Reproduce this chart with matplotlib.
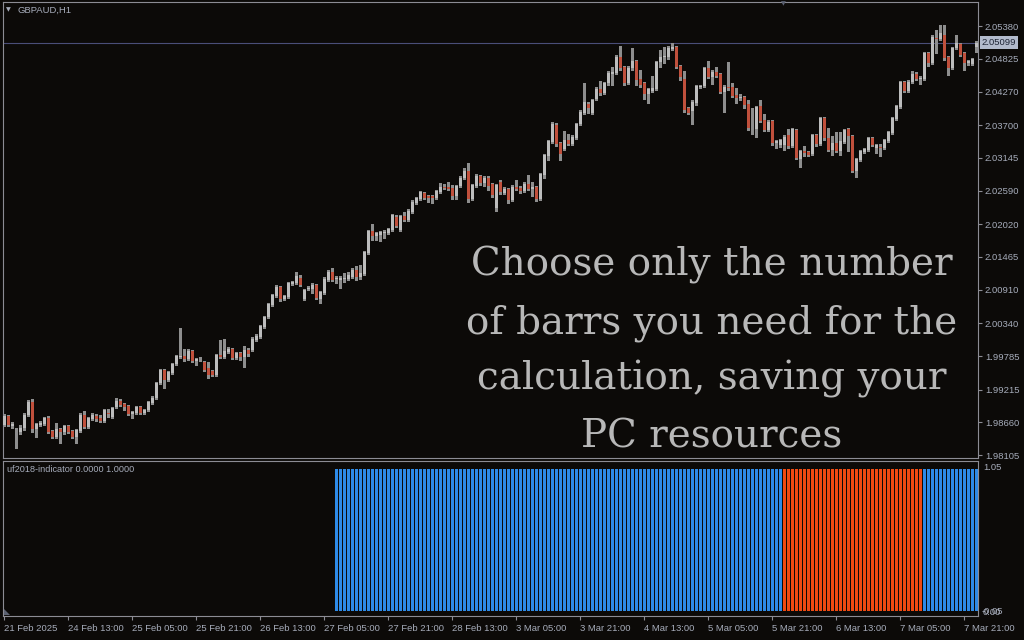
import numpy as np
import matplotlib
matplotlib.use("Agg")
import matplotlib.pyplot as plt
from matplotlib.patches import Polygon

# ---------------- data (GBPAUD H1) ----------------
opens = [
 1.9862, 1.9877, 1.9860, 1.9841, 1.9850, 1.9857, 1.9879, 1.9901, 1.9855, 1.9862,
 1.9863, 1.9874, 1.9852, 1.9841, 1.9855, 1.9850, 1.9860, 1.9852, 1.9841, 1.9852,
 1.9879, 1.9858, 1.9872, 1.9877, 1.9874, 1.9868, 1.9882, 1.9875, 1.9892, 1.9902,
 1.9897, 1.9894, 1.9880, 1.9882, 1.9892, 1.9882, 1.9887, 1.9899, 1.9907, 1.9933,
 1.9955, 1.9938, 1.9950, 1.9965, 1.9977, 1.9978, 1.9973, 1.9987, 1.9970, 1.9973,
 1.9968, 1.9958, 1.9953, 1.9946, 1.9980, 1.9977, 1.9985, 1.9990, 1.9975, 1.9984,
 1.9977, 1.9989, 1.9989, 2.0006, 2.0011, 2.0028, 2.0045, 2.0065, 2.0080, 2.0096,
 2.0075, 2.0079, 2.0101, 2.0102, 2.0111, 2.0075, 2.0092, 2.0092, 2.0099, 2.0075,
 2.0085, 2.0107, 2.0121, 2.0109, 2.0107, 2.0109, 2.0109, 2.0112, 2.0124, 2.0112,
 2.0117, 2.0153, 2.0190, 2.0182, 2.0184, 2.0187, 2.0187, 2.0192, 2.0214, 2.0192,
 2.0216, 2.0209, 2.0223, 2.0238, 2.0245, 2.0255, 2.0250, 2.0250, 2.0246, 2.0256,
 2.0265, 2.0265, 2.0263, 2.0250, 2.0267, 2.0280, 2.0292, 2.0245, 2.0267, 2.0284,
 2.0272, 2.0280, 2.0270, 2.0229, 2.0273, 2.0255, 2.0262, 2.0243, 2.0265, 2.0263,
 2.0258, 2.0270, 2.0262, 2.0265, 2.0245, 2.0285, 2.0318, 2.0341, 2.0370, 2.0340,
 2.0329, 2.0345, 2.0338, 2.0348, 2.0372, 2.0390, 2.0406, 2.0390, 2.0414, 2.0431,
 2.0424, 2.0441, 2.0457, 2.0458, 2.0486, 2.0469, 2.0441, 2.0467, 2.0479, 2.0448,
 2.0441, 2.0423, 2.0428, 2.0431, 2.0477, 2.0486, 2.0486, 2.0499, 2.0503, 2.0470,
 2.0448, 2.0399, 2.0394, 2.0407, 2.0435, 2.0436, 2.0467, 2.0452, 2.0460, 2.0457,
 2.0426, 2.0435, 2.0435, 2.0421, 2.0416, 2.0418, 2.0406, 2.0367, 2.0363, 2.0402,
 2.0379, 2.0362, 2.0377, 2.0340, 2.0336, 2.0336, 2.0353, 2.0335, 2.0362, 2.0312,
 2.0326, 2.0324, 2.0321, 2.0353, 2.0338, 2.0382, 2.0348, 2.0328, 2.0340, 2.0326,
 2.0341, 2.0363, 2.0351, 2.0292, 2.0311, 2.0324, 2.0328, 2.0348, 2.0331, 2.0333,
 2.0331, 2.0343, 2.0357, 2.0380, 2.0401, 2.0443, 2.0428, 2.0443, 2.0457, 2.0448,
 2.0448, 2.0492, 2.0475, 2.0518, 2.0516, 2.0523, 2.0486, 2.0467, 2.0501, 2.0508,
 2.0492, 2.0475, 2.0474, 2.0503]

closes = [
 1.9877, 1.9862, 1.9863, 1.9842, 1.9857, 1.9879, 1.9901, 1.9855, 1.9863, 1.9865,
 1.9874, 1.9850, 1.9841, 1.9855, 1.9850, 1.9860, 1.9850, 1.9841, 1.9853, 1.9879,
 1.9858, 1.9874, 1.9879, 1.9872, 1.9868, 1.9887, 1.9881, 1.9890, 1.9902, 1.9896,
 1.9892, 1.9880, 1.9884, 1.9892, 1.9882, 1.9887, 1.9901, 1.9907, 1.9933, 1.9955,
 1.9938, 1.9951, 1.9965, 1.9978, 1.9978, 1.9973, 1.9987, 1.9970, 1.9973, 1.9974,
 1.9955, 1.9946, 1.9946, 1.9980, 1.9977, 1.9987, 1.9990, 1.9975, 1.9984, 1.9977,
 1.9989, 1.9982, 2.0007, 2.0012, 2.0029, 2.0045, 2.0067, 2.0082, 2.0096, 2.0075,
 2.0080, 2.0102, 2.0104, 2.0114, 2.0099, 2.0090, 2.0094, 2.0099, 2.0077, 2.0087,
 2.0109, 2.0121, 2.0107, 2.0111, 2.0111, 2.0111, 2.0116, 2.0124, 2.0112, 2.0119,
 2.0155, 2.0190, 2.0182, 2.0187, 2.0189, 2.0189, 2.0194, 2.0218, 2.0199, 2.0216,
 2.0209, 2.0224, 2.0240, 2.0246, 2.0256, 2.0246, 2.0246, 2.0246, 2.0258, 2.0265,
 2.0263, 2.0262, 2.0250, 2.0267, 2.0280, 2.0292, 2.0245, 2.0268, 2.0284, 2.0272,
 2.0280, 2.0267, 2.0251, 2.0268, 2.0256, 2.0262, 2.0243, 2.0265, 2.0262, 2.0258,
 2.0270, 2.0262, 2.0265, 2.0245, 2.0287, 2.0319, 2.0343, 2.0372, 2.0338, 2.0321,
 2.0345, 2.0338, 2.0350, 2.0372, 2.0392, 2.0409, 2.0399, 2.0412, 2.0431, 2.0424,
 2.0441, 2.0458, 2.0460, 2.0486, 2.0467, 2.0441, 2.0467, 2.0479, 2.0446, 2.0438,
 2.0423, 2.0431, 2.0433, 2.0477, 2.0486, 2.0487, 2.0501, 2.0503, 2.0469, 2.0452,
 2.0396, 2.0390, 2.0409, 2.0436, 2.0437, 2.0467, 2.0452, 2.0460, 2.0453, 2.0426,
 2.0435, 2.0433, 2.0419, 2.0416, 2.0418, 2.0404, 2.0365, 2.0366, 2.0401, 2.0377,
 2.0362, 2.0375, 2.0340, 2.0343, 2.0345, 2.0350, 2.0335, 2.0363, 2.0314, 2.0326,
 2.0323, 2.0319, 2.0353, 2.0338, 2.0382, 2.0348, 2.0328, 2.0340, 2.0326, 2.0343,
 2.0362, 2.0351, 2.0292, 2.0312, 2.0326, 2.0329, 2.0348, 2.0336, 2.0336, 2.0331,
 2.0345, 2.0358, 2.0382, 2.0402, 2.0443, 2.0428, 2.0443, 2.0457, 2.0448, 2.0450,
 2.0492, 2.0475, 2.0519, 2.0516, 2.0526, 2.0484, 2.0467, 2.0501, 2.0509, 2.0489,
 2.0475, 2.0479, 2.0482, 2.05099]

highs = [
 1.9880, 1.9879, 1.9867, 1.9857, 1.9862, 1.9882, 1.9904, 1.9906, 1.9865, 1.9868,
 1.9875, 1.9877, 1.9853, 1.9865, 1.9857, 1.9862, 1.9862, 1.9853, 1.9855, 1.9882,
 1.9885, 1.9875, 1.9882, 1.9880, 1.9879, 1.9889, 1.9889, 1.9892, 1.9907, 1.9906,
 1.9899, 1.9896, 1.9885, 1.9894, 1.9894, 1.9889, 1.9902, 1.9911, 1.9934, 1.9957,
 1.9957, 1.9953, 1.9967, 1.9980, 2.0026, 1.9990, 1.9990, 1.9989, 1.9975, 1.9977,
 1.9970, 1.9968, 1.9955, 1.9982, 2.0006, 2.0007, 1.9994, 1.9992, 1.9985, 1.9985,
 1.9996, 1.9992, 2.0011, 2.0016, 2.0031, 2.0046, 2.0068, 2.0084, 2.0099, 2.0097,
 2.0082, 2.0104, 2.0106, 2.0121, 2.0116, 2.0092, 2.0097, 2.0102, 2.0101, 2.0089,
 2.0112, 2.0124, 2.0128, 2.0114, 2.0114, 2.0119, 2.0121, 2.0128, 2.0131, 2.0133,
 2.0157, 2.0192, 2.0202, 2.0189, 2.0190, 2.0192, 2.0196, 2.0219, 2.0218, 2.0218,
 2.0223, 2.0228, 2.0243, 2.0248, 2.0258, 2.0256, 2.0251, 2.0251, 2.0260, 2.0272,
 2.0270, 2.0273, 2.0268, 2.0268, 2.0284, 2.0297, 2.0306, 2.0270, 2.0287, 2.0285,
 2.0284, 2.0284, 2.0272, 2.0270, 2.0277, 2.0265, 2.0263, 2.0268, 2.0277, 2.0267,
 2.0273, 2.0285, 2.0273, 2.0267, 2.0289, 2.0321, 2.0345, 2.0375, 2.0373, 2.0341,
 2.0360, 2.0355, 2.0353, 2.0373, 2.0396, 2.0441, 2.0409, 2.0414, 2.0435, 2.0445,
 2.0443, 2.0462, 2.0469, 2.0489, 2.0504, 2.0470, 2.0470, 2.0501, 2.0480, 2.0463,
 2.0443, 2.0433, 2.0453, 2.0479, 2.0497, 2.0503, 2.0504, 2.0509, 2.0504, 2.0472,
 2.0462, 2.0401, 2.0412, 2.0438, 2.0438, 2.0469, 2.0479, 2.0463, 2.0469, 2.0458,
 2.0438, 2.0477, 2.0441, 2.0433, 2.0423, 2.0419, 2.0412, 2.0399, 2.0402, 2.0412,
 2.0389, 2.0379, 2.0379, 2.0345, 2.0346, 2.0353, 2.0363, 2.0365, 2.0363, 2.0328,
 2.0335, 2.0326, 2.0355, 2.0355, 2.0384, 2.0384, 2.0365, 2.0351, 2.0358, 2.0358,
 2.0363, 2.0365, 2.0353, 2.0314, 2.0328, 2.0331, 2.0350, 2.0350, 2.0338, 2.0338,
 2.0346, 2.0360, 2.0384, 2.0404, 2.0445, 2.0445, 2.0446, 2.0462, 2.0460, 2.0453,
 2.0494, 2.0494, 2.0523, 2.0531, 2.0540, 2.0540, 2.0487, 2.0503, 2.0523, 2.0509,
 2.0494, 2.0480, 2.0484, 2.0513]

lows = [
 1.9860, 1.9860, 1.9857, 1.9823, 1.9846, 1.9853, 1.9877, 1.9850, 1.9841, 1.9860,
 1.9862, 1.9848, 1.9840, 1.9840, 1.9831, 1.9846, 1.9848, 1.9840, 1.9831, 1.9850,
 1.9857, 1.9857, 1.9870, 1.9868, 1.9867, 1.9867, 1.9875, 1.9874, 1.9890, 1.9894,
 1.9887, 1.9879, 1.9874, 1.9880, 1.9880, 1.9880, 1.9885, 1.9897, 1.9906, 1.9931,
 1.9924, 1.9936, 1.9948, 1.9963, 1.9975, 1.9970, 1.9972, 1.9968, 1.9963, 1.9970,
 1.9953, 1.9941, 1.9945, 1.9945, 1.9975, 1.9975, 1.9984, 1.9973, 1.9973, 1.9972,
 1.9960, 1.9978, 1.9987, 2.0004, 2.0009, 2.0026, 2.0043, 2.0063, 2.0079, 2.0072,
 2.0074, 2.0077, 2.0099, 2.0101, 2.0097, 2.0074, 2.0090, 2.0085, 2.0075, 2.0068,
 2.0084, 2.0106, 2.0106, 2.0102, 2.0094, 2.0104, 2.0107, 2.0111, 2.0107, 2.0109,
 2.0116, 2.0151, 2.0175, 2.0175, 2.0173, 2.0179, 2.0185, 2.0190, 2.0197, 2.0190,
 2.0207, 2.0207, 2.0221, 2.0236, 2.0243, 2.0245, 2.0240, 2.0238, 2.0245, 2.0255,
 2.0262, 2.0260, 2.0245, 2.0245, 2.0265, 2.0278, 2.0240, 2.0243, 2.0265, 2.0268,
 2.0267, 2.0260, 2.0248, 2.0224, 2.0253, 2.0253, 2.0238, 2.0241, 2.0260, 2.0255,
 2.0256, 2.0260, 2.0250, 2.0241, 2.0243, 2.0280, 2.0311, 2.0340, 2.0335, 2.0311,
 2.0328, 2.0336, 2.0336, 2.0346, 2.0370, 2.0389, 2.0390, 2.0389, 2.0412, 2.0421,
 2.0423, 2.0438, 2.0438, 2.0457, 2.0463, 2.0438, 2.0440, 2.0463, 2.0438, 2.0435,
 2.0414, 2.0407, 2.0426, 2.0429, 2.0469, 2.0475, 2.0482, 2.0497, 2.0467, 2.0446,
 2.0392, 2.0389, 2.0372, 2.0404, 2.0433, 2.0435, 2.0450, 2.0440, 2.0452, 2.0424,
 2.0392, 2.0429, 2.0418, 2.0407, 2.0412, 2.0399, 2.0362, 2.0355, 2.0350, 2.0375,
 2.0360, 2.0360, 2.0336, 2.0331, 2.0333, 2.0328, 2.0331, 2.0333, 2.0312, 2.0299,
 2.0318, 2.0318, 2.0319, 2.0335, 2.0336, 2.0345, 2.0326, 2.0319, 2.0324, 2.0319,
 2.0340, 2.0326, 2.0290, 2.0282, 2.0309, 2.0323, 2.0326, 2.0335, 2.0323, 2.0318,
 2.0329, 2.0341, 2.0355, 2.0379, 2.0399, 2.0426, 2.0426, 2.0441, 2.0446, 2.0440,
 2.0446, 2.0470, 2.0474, 2.0492, 2.0514, 2.0480, 2.0455, 2.0465, 2.0499, 2.0487,
 2.0463, 2.0472, 2.0472, 2.0494]

current_price = 2.05099

price_ticks = [2.05380, 2.04825, 2.04270, 2.03700, 2.03145, 2.02590, 2.02020,
               2.01465, 2.00910, 2.00340, 1.99785, 1.99215, 1.98660, 1.98105]

time_tick_bars = [0, 16, 32, 48, 64, 80, 96, 112, 128, 144, 160, 176, 192, 208, 224, 240]
time_labels = ["21 Feb 2025", "24 Feb 13:00", "25 Feb 05:00", "25 Feb 21:00",
               "26 Feb 13:00", "27 Feb 05:00", "27 Feb 21:00", "28 Feb 13:00",
               "3 Mar 05:00", "3 Mar 21:00", "4 Mar 13:00", "5 Mar 05:00",
               "5 Mar 21:00", "6 Mar 13:00", "7 Mar 05:00", "7 Mar 21:00"]

# indicator signal segments: (first bar, last bar, state)
signal_segments = [(83, 194, "up"), (195, 229, "down"), (230, 243, "up")]
signal_value = 1.0

overlay_lines = ["Choose only the number", "of barrs you need for the",
                 "calculation, saving your", "PC resources"]

# ---------------- style ----------------
BG = "#0c0a08"
FRAME = "#8c8c94"
LABEL = "#a6acba"
BULL = "#bdbdbd"
BEAR = "#c0503c"
WICK = "#8e8e8e"
BLUE = "#2e8ae6"
ORANGE = "#ef4a12"
PLINE = "#4a4e78"
UI = ["Liberation Sans", "DejaVu Sans"]

W, H = 1024, 640
fig = plt.figure(figsize=(W / 100, H / 100), dpi=100, facecolor=BG)


def rect(x0, y0, x1, y1):
    return [x0 / W, 1 - y1 / H, (x1 - x0) / W, (y1 - y0) / H]


ax = fig.add_axes(rect(3, 2, 978, 458))
axi = fig.add_axes(rect(3, 461, 978, 616))
for a in (ax, axi):
    a.set_facecolor(BG)
    for s in a.spines.values():
        s.set_color(FRAME)
        s.set_linewidth(0.8)

o = np.array(opens)
c = np.array(closes)
hi = np.array(highs)
lo = np.array(lows)
x = np.arange(len(c))
up = c >= o

ax.vlines(x, lo, hi, color=WICK, lw=0.75, antialiased=False, zorder=2)
bottom = np.minimum(o, c)
height = np.maximum(np.abs(c - o), 0.00012)
ax.bar(x[up], height[up], bottom=bottom[up], width=0.75, color=BULL,
       linewidth=0, antialiased=False, zorder=3)
ax.bar(x[~up], height[~up], bottom=bottom[~up], width=0.75, color=BEAR,
       linewidth=0, antialiased=False, zorder=3)

ax.axhline(current_price, color=PLINE, lw=0.8, zorder=1)

ax.set_xlim(-0.25, 243.5)
ax.set_ylim(1.98058, 2.05787)
ax.set_xticks([])
ax.yaxis.tick_right()
ax.set_yticks(price_ticks)
ax.set_yticklabels([f"{v:.5f}" for v in price_ticks])
ax.tick_params(axis="y", colors=FRAME, length=3, width=0.8, pad=2,
               labelsize=6.8, labelcolor=LABEL)
for lab in ax.get_yticklabels():
    lab.set_family(UI)

# current price tag
ax.text(1.0035, current_price, f"{current_price:.5f}", transform=ax.get_yaxis_transform(),
        ha="left", va="center", fontsize=6.8, family=UI, color="#1e2434",
        bbox=dict(boxstyle="square,pad=0.18", fc="#b3bbcc", ec="none"), zorder=5,
        clip_on=False)

# indicator histogram
for first, last, state in signal_segments:
    xs = np.arange(first, last + 1)
    axi.bar(xs, signal_value, width=0.75, color=BLUE if state == "up" else ORANGE,
            linewidth=0, antialiased=False)
axi.set_xlim(-0.25, 243.5)
axi.set_ylim(-0.035, 1.056)
axi.set_yticks([])
axi.set_xticks(time_tick_bars)
axi.set_xticklabels(time_labels)
axi.tick_params(axis="x", colors=FRAME, length=3, width=0.8, pad=3,
                labelsize=6.8, labelcolor=LABEL)
for lab in axi.get_xticklabels():
    lab.set_ha("left")
    lab.set_family(UI)

# texts
fig.text(18 / W, 1 - 10 / H, "GBPAUD,H1", ha="left", va="center", fontsize=6.8,
         color=LABEL, family=UI)
fig.text(8 / W, 1 - 10 / H, "\u25bc", ha="center", va="center", fontsize=4.5,
         color=LABEL, family="DejaVu Sans")
fig.text(783 / W, 1 - 4 / H, "\u25bc", ha="center", va="center", fontsize=4.5,
         color="#5c6272", family="DejaVu Sans")
fig.text(7 / W, 1 - 469 / H, "uf2018-indicator 0.0000 1.0000", ha="left", va="center",
         fontsize=6.6, color=LABEL, family=UI)
fig.text(983 / W, 1 - 467 / H, "1.05", ha="left", va="center", fontsize=6.8,
         color=LABEL, family=UI)
fig.text(982 / W, 1 - 612 / H, "-0.05", ha="left", va="center", fontsize=6.8,
         color=LABEL, family=UI)
fig.text(983 / W, 1 - 612.5 / H, "0.00", ha="left", va="center", fontsize=6.8,
         color=LABEL, family=UI)

fig.patches.append(Polygon([[4 / W, 1 - 609 / H], [4 / W, 1 - 615 / H], [10 / W, 1 - 615 / H]],
                           closed=True, transform=fig.transFigure, fc="#5c6272", ec="none"))

baselines = [275, 333, 390, 448]
for line, yb in zip(overlay_lines, baselines):
    fig.text(712 / W, 1 - yb / H, line, ha="center", va="baseline", fontsize=28,
             color="#b8b8b8", family="DejaVu Serif")

fig.savefig("out.png", dpi=100, facecolor=BG)
